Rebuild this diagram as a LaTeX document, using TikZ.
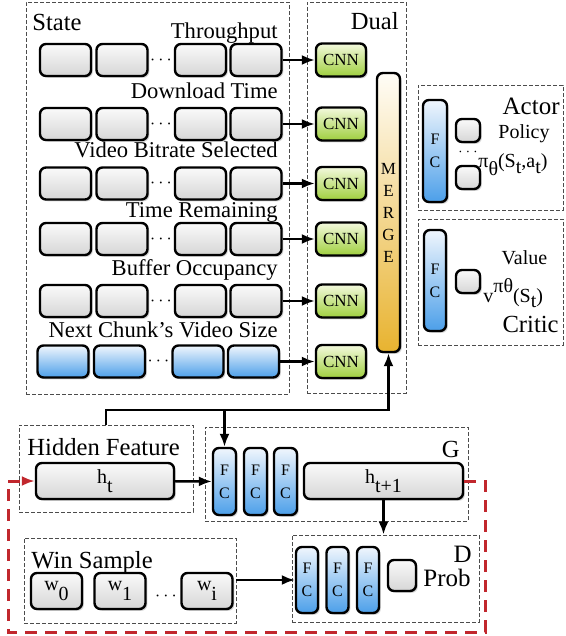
\documentclass[tikz,border=0pt]{standalone}
\usepackage{fontspec}
\setmainfont{Liberation Serif}
\usepackage{tikz}
\usetikzlibrary{shapes,arrows.meta,positioning,fit,calc,shadows}

\definecolor{celltop}{HTML}{FAFAFA}
\definecolor{cellbot}{HTML}{D6D6D6}
\definecolor{bluetop}{HTML}{F0F6FD}
\definecolor{bluebot}{HTML}{4C9FE9}
\definecolor{greentop}{HTML}{F3F9DD}
\definecolor{greenbot}{HTML}{9FCF3E}
\definecolor{mergetop}{HTML}{FFFDF7}
\definecolor{mergebot}{HTML}{E8B330}
\definecolor{loopred}{HTML}{C1272D}

\begin{document}
\begin{tikzpicture}[
    x=0.5pt, y=-0.5pt,
    cell/.style={rectangle, draw, rounded corners=3pt, line width=1.2pt, top color=celltop, bottom color=cellbot, drop shadow={shadow xshift=0.9pt, shadow yshift=-0.9pt, opacity=0.35}, minimum width=25.5pt, minimum height=16pt, inner sep=0pt, font=\fontsize{10}{12}\selectfont},
    bluecell/.style={cell, top color=bluetop, bottom color=bluebot},
    cnn/.style={cell, top color=greentop, bottom color=greenbot, minimum width=25pt, minimum height=16.5pt, font=\fontsize{8.5}{10}\selectfont},
    fc/.style={cell, top color=bluetop, bottom color=bluebot, minimum width=11.5pt, minimum height=33.5pt, align=center, font=\fontsize{8}{11.5}\selectfont},
    merge/.style={cell, top color=mergetop, bottom color=mergebot, minimum width=11.5pt, minimum height=139.5pt, align=center, font=\fontsize{8.5}{11}\selectfont},
    sq/.style={cell, minimum width=12pt, minimum height=11.5pt},
    group/.style={rectangle, draw=black!70, dash pattern=on 1.8pt off 1.2pt, line width=0.45pt, inner sep=0pt},
    title/.style={font=\fontsize{12.3}{14}\selectfont, inner sep=0pt},
    rowlabel/.style={font=\fontsize{11.3}{13}\selectfont, inner sep=0pt, anchor=base east},
    note/.style={font=\fontsize{10}{12}\selectfont, inner sep=0pt},
    arrow/.style={-{Latex[length=6.5pt,width=5pt]}, line width=1.2pt},
    redloop/.style={-{Latex[length=6.5pt,width=5pt]}, line width=1.5pt, draw=loopred, dash pattern=on 6pt off 4pt},
]
    \useasboundingbox (0,0) rectangle (566,636);

    \node[group, fit={(26,2) (289,394)}] (state) {};
    \node[group, fit={(307,2) (406,393)}] (dual) {};
    \node[group, fit={(418,85) (563,210)}] (actor) {};
    \node[group, fit={(418,219) (563,345)}] (critic) {};
    \node[group, fit={(19,425) (193,512)}] (hidden) {};
    \node[group, fit={(205,427) (468,521)}] (gen) {};
    \node[group, fit={(24,538) (236,623)}] (win) {};
    \node[group, fit={(292,535) (479,622)}] (disc) {};

    \node[title, anchor=base west] (statet) at (32,31) {State};
    \node[title, anchor=base east] (dualt) at (399,30) {Dual};
    \node[title, anchor=base east, font=\fontsize{12.5}{14}\selectfont] (actort) at (560,115) {Actor};
    \node[title, anchor=base east] (critict) at (559,332) {Critic};
    \node[title, anchor=base west] (hiddent) at (27,455) {Hidden Feature};
    \node[title, anchor=base east] (gent) at (460,457) {G};
    \node[title, anchor=base west] (wint) at (31,568) {Win Sample};
    \node[title, anchor=base east, font=\fontsize{12.5}{14}\selectfont] (disct) at (472,562) {D};

    \foreach \y/\txt [count=\i] in {39/Throughput, 99/Download Time, 158/Video Bitrate Selected, 217/Time Remaining, 275/Buffer Occupancy, 337/Next Chunk's Video Size}
        \node[rowlabel] (lab\i) at (278,\y) {\txt};

    \foreach \i/\y/\dx/\sty in {1/60/0/cell, 2/124/0/cell, 3/183.5/0/cell, 4/239/0/cell, 5/301/0/cell, 6/361.5/-2.5/bluecell} {
        \node[\sty] (c\i-1) at (65.5+\dx,\y) {};
        \node[\sty] (c\i-2) at (122+\dx,\y) {};
        \node[inner sep=0pt, font=\small] (dots\i) at (161+\dx,\y) {$\cdots$};
        \node[\sty] (c\i-3) at (200.5+\dx,\y) {};
        \node[\sty] (c\i-4) at (256+\dx,\y) {};
        \node[cnn] (cnn\i) at (341,\y) {CNN};
        \draw[arrow] (c\i-4) -- (cnn\i);
    }

    \node[merge] (merge) at (388.5,212.5) {M\\E\\R\\G\\E};

    \node[fc, minimum width=12pt, minimum height=51pt] (afc) at (435,151) {F\\C};
    \node[sq] (pol1) at (468,130.5) {};
    \node[sq] (pol2) at (468,177.5) {};
    \node[inner sep=0pt, font=\scriptsize] (adots) at (468,152) {$\cdots$};
    \node[note, anchor=base] (policy) at (524,139) {Policy};
    \node[note, anchor=base west] (pi) at (478,168) {π\raisebox{-4pt}{θ}(S\raisebox{-3pt}{t},a\raisebox{-3pt}{t})};

    \node[fc, minimum width=11pt, minimum height=50.5pt] (cfc) at (435,280.5) {F\\C};
    \node[sq] (val) at (468,281.5) {};
    \node[note, anchor=base] (value) at (524.5,264) {Value};
    \node[note, anchor=base west] (vpi) at (483,302) {v\raisebox{5pt}{πθ}(S\raisebox{-2.5pt}{t})};

    \node[cell, minimum width=69pt, minimum height=18pt] (ht) at (105,481) {h\raisebox{-4.5pt}{t}};
    \node[fc] (g1) at (224.5,481.5) {F\\C};
    \node[fc] (g2) at (255.5,481.5) {F\\C};
    \node[fc] (g3) at (285.5,481.5) {F\\C};
    \node[cell, minimum width=79.5pt, minimum height=18pt] (htn) at (383.5,481) {h\raisebox{-4.5pt}{t+1}};

    \node[cell, minimum height=18pt] (w0) at (56.5,591) {w\raisebox{-5pt}{0}};
    \node[cell, minimum height=18pt] (w1) at (120,591) {w\raisebox{-5pt}{1}};
    \node[inner sep=0pt, font=\small] (wdots) at (166,596) {$\cdots$};
    \node[cell, minimum height=18pt] (wi) at (207,591) {w\raisebox{-5pt}{i}};

    \node[fc, minimum width=11pt, minimum height=33pt] (d1) at (307,580) {F\\C};
    \node[fc, minimum width=11pt, minimum height=33pt] (d2) at (337.5,580) {F\\C};
    \node[fc, minimum width=11pt, minimum height=33pt] (d3) at (368,580) {F\\C};
    \node[sq, minimum width=14pt, minimum height=15.5pt] (prob) at (402,575.5) {};
    \node[title, anchor=base west, font=\fontsize{12.5}{14}\selectfont] (probt) at (423,586) {Prob};

    \coordinate (bus) at (g1.north |- 0,410);
    \coordinate (loopr) at (485,632);
    \coordinate (loopl) at (8,632);

    \draw[arrow] (hidden.north) |- (bus) -| (merge.south);
    \draw[arrow] (bus) -- (g1.north);
    \draw[arrow] (ht) -- (g1);
    \draw[arrow] (htn.south) -- (htn.south |- disc.north);
    \draw[arrow] (win.east |- d1) -- (d1);
    \draw[redloop] (htn.east) -| (loopr) -- (loopl) |- (ht.west);
\end{tikzpicture}
\end{document}
